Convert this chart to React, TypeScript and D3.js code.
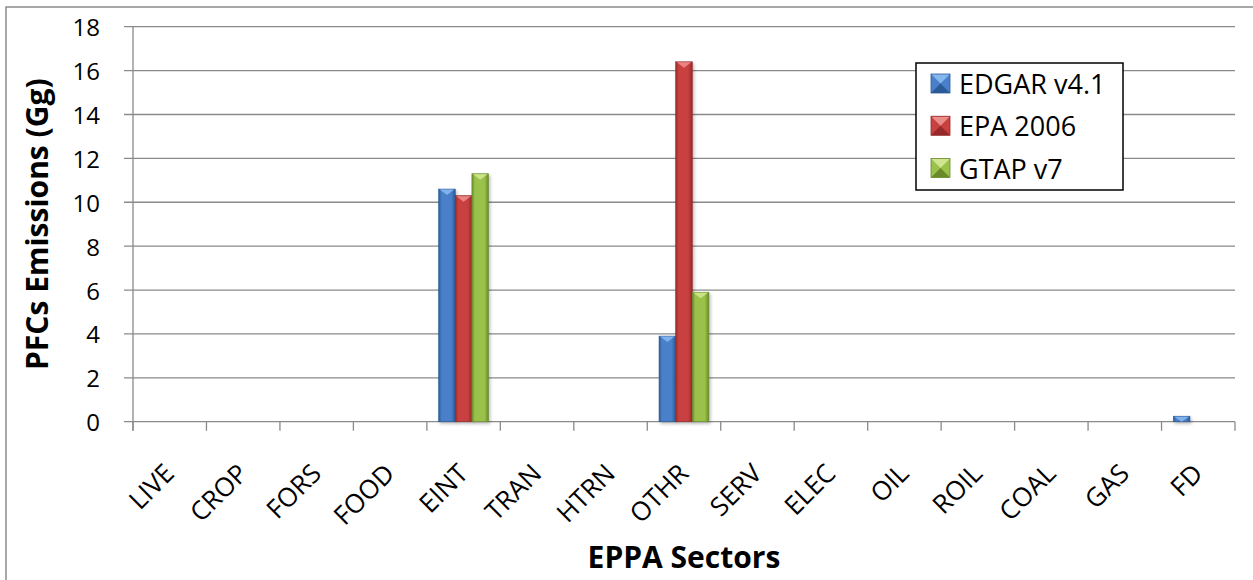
import React, { useEffect, useRef } from 'react';
import * as d3 from 'd3';

const categories = ['LIVE', 'CROP', 'FORS', 'FOOD', 'EINT', 'TRAN', 'HTRN', 'OTHR', 'SERV', 'ELEC', 'OIL', 'ROIL', 'COAL', 'GAS', 'FD'];
const seriesNames = ['EDGAR v4.1', 'EPA 2006', 'GTAP v7'];
const edgarValues = [0, 0, 0, 0, 10.6, 0, 0, 3.9, 0, 0, 0, 0, 0, 0, 0.25];
const epaValues = [0, 0, 0, 0, 10.3, 0, 0, 16.4, 0, 0, 0, 0, 0, 0, 0];
const gtapValues = [0, 0, 0, 0, 11.3, 0, 0, 5.9, 0, 0, 0, 0, 0, 0, 0];
const yTicks = [0, 2, 4, 6, 8, 10, 12, 14, 16, 18];

// edge, middle, light top
const palette = [
  ['#2b5a98', '#4a80c9', '#86b6ee'],
  ['#962a2a', '#c8403f', '#ec8c89'],
  ['#6a8a2a', '#9ac24b', '#cfe58f'],
];

const FONT = "'Open Sans', 'Liberation Sans', sans-serif";

export default function App() {
  const svgRef = useRef<SVGSVGElement>(null);

  useEffect(() => {
    if (!svgRef.current) return;
    const svg = d3.select(svgRef.current);
    svg.selectAll('*').remove();

    const W = 1253;
    const H = 580;
    const left = 133;
    const right = 1235;
    const top = 26.7;
    const bottom = 421.7;

    const defs = svg.append('defs');
    palette.forEach((c, i) => {
      const g = defs.append('linearGradient').attr('id', `bar${i}`).attr('x1', 0).attr('x2', 1).attr('y1', 0).attr('y2', 0);
      g.append('stop').attr('offset', '0%').attr('stop-color', c[0]);
      g.append('stop').attr('offset', '18%').attr('stop-color', c[1]);
      g.append('stop').attr('offset', '75%').attr('stop-color', c[1]);
      g.append('stop').attr('offset', '100%').attr('stop-color', c[0]);
    });
    const f = defs.append('filter').attr('id', 'shadow').attr('x', '-20%').attr('y', '-5%').attr('width', '160%').attr('height', '115%');
    f.append('feDropShadow').attr('dx', 1.5).attr('dy', 2).attr('stdDeviation', 1.5).attr('flood-color', '#000').attr('flood-opacity', 0.25);

    // outer frame
    svg.append('rect')
      .attr('x', 6).attr('y', 7).attr('width', W + 20).attr('height', H + 20)
      .attr('fill', '#fff').attr('stroke', '#8c8c8c').attr('stroke-width', 1.5);

    const x = d3.scaleBand<string>().domain(categories).range([left, right]).paddingInner(0).paddingOuter(0);
    const xSub = d3.scaleBand<string>().domain(seriesNames).range([0, x.bandwidth()]).paddingInner(0).paddingOuter(0.71);
    const y = d3.scaleLinear().domain([0, 18]).range([bottom, top]);

    // gridlines + y ticks
    svg.append('g').selectAll('line')
      .data(yTicks)
      .join('line')
      .attr('x1', left - 9).attr('x2', right)
      .attr('y1', d => y(d)).attr('y2', d => y(d))
      .attr('stroke', '#8a8a8a').attr('stroke-width', 1.3);

    svg.append('g').selectAll('text')
      .data(yTicks)
      .join('text')
      .attr('x', 100).attr('y', d => y(d))
      .attr('text-anchor', 'end').attr('dominant-baseline', 'central')
      .attr('font-family', FONT).attr('font-size', 24).attr('fill', '#000')
      .text(d => d);

    // y axis line
    svg.append('line')
      .attr('x1', left).attr('x2', left).attr('y1', top).attr('y2', bottom + 9)
      .attr('stroke', '#8a8a8a').attr('stroke-width', 1.3);

    // x ticks at band boundaries
    const bounds = categories.map(c => x(c) as number).concat([right]);
    svg.append('g').selectAll('line')
      .data(bounds)
      .join('line')
      .attr('x1', d => d).attr('x2', d => d)
      .attr('y1', bottom).attr('y2', bottom + 9)
      .attr('stroke', '#8a8a8a').attr('stroke-width', 1.3);

    // bars
    const seriesValues = [edgarValues, epaValues, gtapValues];
    seriesValues.forEach((vals, si) => {
      const g = svg.append('g').attr('filter', 'url(#shadow)');
      const data = categories.map((c, i) => ({ c, v: vals[i] })).filter(d => d.v > 0);
      const bw = xSub.bandwidth();
      g.selectAll('rect')
        .data(data)
        .join('rect')
        .attr('x', d => (x(d.c) as number) + (xSub(seriesNames[si]) as number))
        .attr('y', d => y(d.v))
        .attr('width', bw)
        .attr('height', d => bottom - y(d.v))
        .attr('fill', `url(#bar${si})`)
        .attr('stroke', palette[si][0]).attr('stroke-width', 0.6);
      g.selectAll('path')
        .data(data)
        .join('path')
        .attr('d', d => {
          const x0 = (x(d.c) as number) + (xSub(seriesNames[si]) as number);
          const y0 = y(d.v);
          const h = Math.min(6, bottom - y0);
          return `M${x0 + 1},${y0 + 0.5}L${x0 + bw - 1},${y0 + 0.5}L${x0 + bw / 2},${y0 + h}Z`;
        })
        .attr('fill', palette[si][2]).attr('opacity', 0.9);
    });

    // x tick labels
    svg.append('g').selectAll('text')
      .data(categories)
      .join('text')
      .attr('transform', d => `translate(${(x(d) as number) + x.bandwidth() / 2 - 1},${468}) rotate(-45)`)
      .attr('text-anchor', 'end').attr('dominant-baseline', 'central')
      .attr('font-family', FONT).attr('font-size', 26).attr('fill', '#000')
      .text(d => d);

    // axis titles
    svg.append('text')
      .attr('x', (left + right) / 2).attr('y', 568)
      .attr('text-anchor', 'middle')
      .attr('font-family', FONT).attr('font-size', 30).attr('font-weight', 'bold').attr('fill', '#000')
      .text('EPPA Sectors');

    svg.append('text')
      .attr('transform', `translate(36,${(top + bottom) / 2}) rotate(-90)`)
      .attr('text-anchor', 'middle').attr('dominant-baseline', 'central')
      .attr('font-family', FONT).attr('font-size', 30).attr('font-weight', 'bold').attr('fill', '#000')
      .text('PFCs Emissions (Gg)');

    // legend
    const lg = svg.append('g');
    lg.append('rect')
      .attr('x', 916).attr('y', 63).attr('width', 207).attr('height', 127)
      .attr('fill', '#fff').attr('stroke', '#000').attr('stroke-width', 1.5);
    const ly = d3.scalePoint<string>().domain(seriesNames).range([83.5, 168]);
    seriesNames.forEach((name, i) => {
      const cy = ly(name) as number;
      const sx = 931;
      const s = 19;
      const sy = cy - s / 2;
      const c = palette[i];
      lg.append('rect').attr('x', sx).attr('y', sy).attr('width', s).attr('height', s).attr('fill', c[1]);
      lg.append('path').attr('d', `M${sx},${sy}L${sx + s},${sy}L${sx + s / 2},${sy + s / 2}Z`).attr('fill', c[2]);
      lg.append('path').attr('d', `M${sx},${sy + s}L${sx + s},${sy + s}L${sx + s / 2},${sy + s / 2}Z`).attr('fill', c[0]);
      lg.append('rect').attr('x', sx).attr('y', sy).attr('width', s).attr('height', s)
        .attr('fill', 'none').attr('stroke', c[0]).attr('stroke-width', 0.8);
      lg.append('text')
        .attr('x', 959).attr('y', cy)
        .attr('dominant-baseline', 'central')
        .attr('font-family', FONT).attr('font-size', 27).attr('fill', '#000')
        .text(name);
    });
  }, []);

  return (
    <div style={{ position: 'absolute', left: 0, top: 0, width: 1253, height: 580, overflow: 'hidden', background: '#fff' }}>
      <svg ref={svgRef} width={1253} height={580} style={{ display: 'block' }} />
    </div>
  );
}
